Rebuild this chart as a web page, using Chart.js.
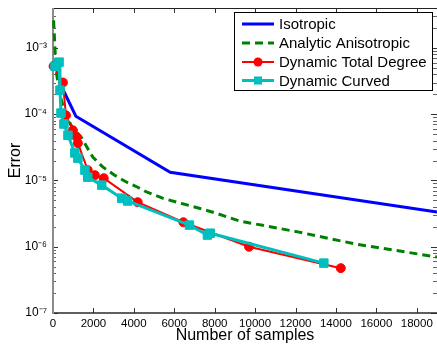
<!DOCTYPE html>
<html>
<head>
<meta charset="utf-8">
<script src="https://cdn.jsdelivr.net/npm/chart.js@4/dist/chart.umd.min.js"></script>
<style>
  html, body { margin: 0; padding: 0; background: #ffffff; }
  #wrap { width: 437px; height: 346px; }
</style>
</head>
<body>
<div id="wrap"><canvas id="c" width="437" height="346"></canvas></div>
<script>
// ---- data ----
const seriesNames = ['Isotropic', 'Analytic Anisotropic', 'Dynamic Total Degree', 'Dynamic Curved'];

const isoX = [440, 1130, 5800, 19000];
const isoY = [2.55e-4, 9.3e-5, 1.33e-5, 3.35e-6];

const anaX = [30, 150, 350, 640, 940, 1430, 1675, 1970, 2460, 3050, 3650, 4190, 4630, 5420, 6360, 7240, 8080, 9210, 12170, 15020, 19000];
const anaY = [2.6e-3, 4.6e-4, 1.9e-4, 9.6e-5, 6.4e-5, 4.35e-5, 3.2e-5, 2.25e-5, 1.6e-5, 1.2e-5, 9.4e-6, 7.9e-6, 6.7e-6, 5.4e-6, 4.5e-6, 3.8e-6, 3.2e-6, 2.45e-6, 1.66e-6, 1.09e-6, 7.0e-7];

const tdX = [30, 490, 640, 985, 1180, 1230, 1720, 2070, 2510, 4190, 6450, 9700, 14240];
const tdY = [5.3e-4, 3.0e-4, 9.6e-5, 5.7e-5, 4.5e-5, 3.65e-5, 1.43e-5, 1.2e-5, 1.08e-5, 4.7e-6, 2.34e-6, 1.0e-6, 4.75e-7];

const cvX = [100, 300, 345, 395, 540, 740, 1080, 1230, 1580, 1720, 2410, 3400, 3690, 6750, 7640, 7780, 13400];
const cvY = [5.3e-4, 6.1e-4, 2.3e-4, 1.04e-4, 7.1e-5, 4.8e-5, 2.6e-5, 2.17e-5, 1.43e-5, 1.12e-5, 8.5e-6, 5.4e-6, 4.9e-6, 2.12e-6, 1.5e-6, 1.6e-6, 5.66e-7];

const xTicks = [0, 2000, 4000, 6000, 8000, 10000, 12000, 14000, 16000, 18000];
const yTicks = [1e-7, 1e-6, 1e-5, 1e-4, 1e-3];
const xMin = 0, xMax = 19000, yMin = 1e-7, yMax = 4e-3;
const xTitle = 'Number of samples';
const yTitle = 'Error';

// ---- build ----
const pts = (xs, ys) => xs.map((x, i) => ({x: x, y: ys[i]}));
const FONT = "'Liberation Sans', Arial, Helvetica, sans-serif";
const SUP = {'-':'\u207B','0':'\u2070','1':'\u00B9','2':'\u00B2','3':'\u00B3','4':'\u2074','5':'\u2075','6':'\u2076','7':'\u2077','8':'\u2078','9':'\u2079'};
const supExp = v => '10' + String(Math.round(Math.log10(v))).split('').map(c => SUP[c]).join('');

const axesPlugin = {
  id: 'matlabAxes',
  beforeDatasetsDraw(chart) {
    const {ctx, chartArea: a, scales: {x, y}} = chart;
    ctx.save();
    ctx.strokeStyle = '#333';
    ctx.lineWidth = 1;
    xTicks.forEach(v => {
      const px = Math.round(x.getPixelForValue(v)) + 0.5;
      ctx.beginPath();
      ctx.moveTo(px, a.bottom); ctx.lineTo(px, a.bottom - 5);
      ctx.moveTo(px, a.top); ctx.lineTo(px, a.top + 5);
      ctx.stroke();
    });
    for (let e = -7; e <= -3; e++) {
      for (let m = 1; m <= 9; m++) {
        const v = m * Math.pow(10, e);
        if (v < yMin || v > yMax) continue;
        const py = Math.round(y.getPixelForValue(v)) + 0.5;
        const len = m === 1 ? 5 : 3;
        ctx.strokeStyle = m === 1 ? '#333' : '#666';
        ctx.beginPath();
        ctx.moveTo(a.left, py); ctx.lineTo(a.left + len, py);
        ctx.moveTo(a.right, py); ctx.lineTo(a.right - len - 1, py);
        ctx.stroke();
      }
    }
    ctx.strokeStyle = '#222';
    ctx.lineWidth = 1;
    ctx.beginPath();
    ctx.moveTo(a.left, a.top + 0.5); ctx.lineTo(a.right, a.top + 0.5);
    ctx.stroke();
    ctx.strokeStyle = '#2a2a2a';
    ctx.lineWidth = 1.5;
    ctx.beginPath();
    ctx.moveTo(a.left, a.bottom); ctx.lineTo(a.right, a.bottom);
    ctx.stroke();
    ctx.strokeStyle = '#8c8c8c';
    ctx.lineWidth = 2;
    ctx.beginPath();
    ctx.moveTo(a.left, a.top); ctx.lineTo(a.left, a.bottom + 1);
    ctx.stroke();
    ctx.restore();
  },
  afterDraw(chart) {
    const {ctx} = chart;
    const ds = chart.data.datasets;
    ctx.save();
    const bx = 234.5, by = 12.5, bw = 198, bh = 78;
    ctx.fillStyle = '#ffffff';
    ctx.fillRect(bx, by, bw, bh);
    ctx.strokeStyle = '#000';
    ctx.lineWidth = 1;
    ctx.strokeRect(bx, by, bw, bh);
    const rows = [24, 43, 62, 80.5];
    ds.forEach((d, i) => {
      const yy = rows[i];
      ctx.strokeStyle = d.borderColor;
      ctx.lineWidth = d.borderWidth;
      ctx.setLineDash(d.borderDash || []);
      ctx.beginPath();
      ctx.moveTo(242, yy); ctx.lineTo(274, yy);
      ctx.stroke();
      ctx.setLineDash([]);
      if (d.pointRadius > 0) {
        ctx.fillStyle = d.pointBackgroundColor;
        if (d.pointStyle === 'rect') {
          ctx.fillRect(258 - 4, yy - 4, 8, 8);
        } else {
          ctx.beginPath(); ctx.arc(258, yy, 4.5, 0, Math.PI * 2); ctx.fill();
        }
      }
      ctx.fillStyle = '#000';
      ctx.font = '15px ' + FONT;
      ctx.textBaseline = 'middle';
      ctx.textAlign = 'left';
      ctx.fillText(d.label, 279, yy + 1);
    });
    ctx.restore();
  }
};

new Chart(document.getElementById('c'), {
  type: 'line',
  data: {
    datasets: [
      { label: seriesNames[0], data: pts(isoX, isoY), borderColor: '#0000ff', backgroundColor: '#0000ff',
        borderWidth: 3, pointRadius: 0, order: 3 },
      { label: seriesNames[1], data: pts(anaX, anaY), borderColor: '#008000', backgroundColor: '#008000',
        borderWidth: 3, borderDash: [8, 5], pointRadius: 0, order: 2 },
      { label: seriesNames[2], data: pts(tdX, tdY), borderColor: '#ff0000', backgroundColor: '#ff0000',
        borderWidth: 2, pointRadius: 4.5, pointStyle: 'circle', pointBackgroundColor: '#ff0000',
        pointBorderColor: '#ff0000', pointBorderWidth: 1, order: 1 },
      { label: seriesNames[3], data: pts(cvX, cvY), borderColor: '#00bfbf', backgroundColor: '#00bfbf',
        borderWidth: 3, pointRadius: 6, pointStyle: 'rect', pointBackgroundColor: '#00bfbf',
        pointBorderColor: '#00bfbf', pointBorderWidth: 1, order: 0 }
    ]
  },
  options: {
    responsive: false,
    animation: false,
    devicePixelRatio: 1,
    clip: false,
    layout: { autoPadding: false, padding: { top: 8, right: 0, left: 0, bottom: 0 } },
    plugins: { legend: { display: false }, tooltip: { enabled: false } },
    elements: { line: { tension: 0 } },
    scales: {
      x: {
        type: 'linear', min: xMin, max: xMax,
        afterBuildTicks: s => { s.ticks = xTicks.map(v => ({value: v})); },
        afterFit: s => { s.height = 33; s.paddingLeft = 0; s.paddingRight = 0; },
        grid: { display: false, drawTicks: false },
        border: { display: false },
        ticks: { color: '#000', font: { size: 11.5, family: FONT }, padding: 4, maxRotation: 0, autoSkip: false,
                 callback: v => String(v) },
        title: { display: true, text: xTitle, color: '#000', font: { size: 16, family: FONT }, padding: { top: 0, bottom: 0.5 } }
      },
      y: {
        type: 'logarithmic', min: yMin, max: yMax,
        afterBuildTicks: s => { s.ticks = yTicks.map(v => ({value: v})); },
        afterFit: s => { s.width = 53; s.paddingTop = 0; s.paddingBottom = 0; },
        grid: { display: false, drawTicks: false },
        border: { display: false },
        ticks: { color: '#000', font: { size: 12, family: FONT }, padding: 6, autoSkip: false,
                 callback: v => supExp(v) },
        title: { display: true, text: yTitle, color: '#000', font: { size: 16, family: FONT }, padding: { top: 5.5, bottom: 0 } }
      }
    }
  },
  plugins: [axesPlugin]
});
</script>
</body>
</html>
